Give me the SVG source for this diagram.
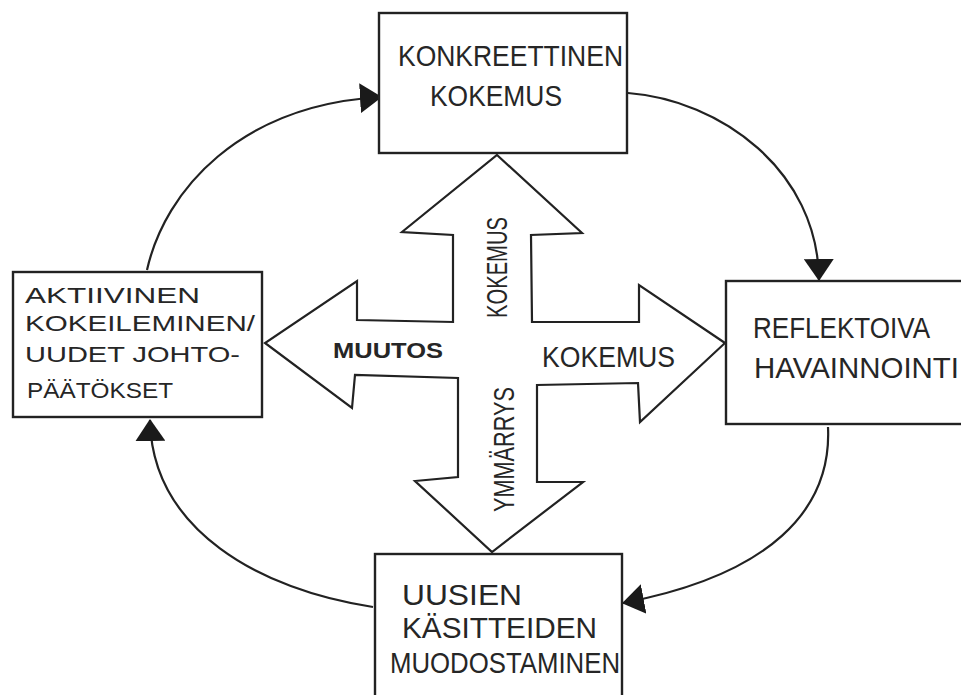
<svg xmlns="http://www.w3.org/2000/svg" width="961" height="695" viewBox="0 0 961 695">
<style>
.box{fill:#fff;stroke:#222;stroke-width:2.4}
.cross{fill:#fff;stroke:#222;stroke-width:2.2;stroke-linejoin:miter}
.conn{fill:none;stroke:#222;stroke-width:2.2}
.t{font-family:"Liberation Sans",Arial,sans-serif;fill:#262626;font-size:29px}
.s{font-size:22px}
.b{font-weight:bold}
</style>
<defs>
<marker id="ah" viewBox="0 0 22 30" refX="21" refY="15" markerWidth="22" markerHeight="30" markerUnits="userSpaceOnUse" orient="auto">
<path d="M0,0 L22,15 L0,30 Z" fill="#1a1a1a"/>
</marker>
</defs>
<rect width="961" height="695" fill="#fff"/>
<g id="connectors">
<path class="conn" d="M628,93 C720,100 818,170 819,280" marker-end="url(#ah)"/>
<path class="conn" d="M828,427 C832,510 770,575 623,603" marker-end="url(#ah)"/>
<path class="conn" d="M373,607 C260,590 152,530 150,420" marker-end="url(#ah)"/>
<path class="conn" d="M147,270 C165,190 240,105 381,97" marker-end="url(#ah)"/>
</g>
<g id="cross">
<polygon class="cross" points="497,155 582,233 531,235 532,322 639,322 639,285 725,343 640,422 638,383 537,385 537,482 583,482 492,552 415,481 458,477 458,378 355,375 352,408 265,343 357,281 357,320 453,322 453,235 402,232"/>
<text class="t" transform="translate(507,318) rotate(-90)" textLength="101" lengthAdjust="spacingAndGlyphs">KOKEMUS</text>
<text class="t s b" x="333" y="358" textLength="110" lengthAdjust="spacingAndGlyphs">MUUTOS</text>
<text class="t" x="542" y="367" textLength="133" lengthAdjust="spacingAndGlyphs">KOKEMUS</text>
<text class="t" transform="translate(514,512) rotate(-90)" textLength="125" lengthAdjust="spacingAndGlyphs">YMMÄRRYS</text>
</g>
<g id="konkreettinen">
<rect class="box" x="379" y="13" width="248" height="140"/>
<text class="t" x="398" y="66" textLength="225" lengthAdjust="spacingAndGlyphs">KONKREETTINEN</text>
<text class="t" x="430" y="106" textLength="132" lengthAdjust="spacingAndGlyphs">KOKEMUS</text>
</g>
<g id="reflektoiva">
<rect class="box" x="726" y="281" width="250" height="143"/>
<text class="t" x="753" y="338" textLength="177" lengthAdjust="spacingAndGlyphs">REFLEKTOIVA</text>
<text class="t" x="754" y="378" textLength="205" lengthAdjust="spacingAndGlyphs">HAVAINNOINTI</text>
</g>
<g id="uusien">
<rect class="box" x="375" y="554" width="247" height="160"/>
<text class="t" x="402" y="605" textLength="120" lengthAdjust="spacingAndGlyphs">UUSIEN</text>
<text class="t" x="402" y="638" textLength="195" lengthAdjust="spacingAndGlyphs">KÄSITTEIDEN</text>
<text class="t" x="390" y="673" textLength="230" lengthAdjust="spacingAndGlyphs">MUODOSTAMINEN</text>
</g>
<g id="aktiivinen">
<rect class="box" x="13" y="272" width="249" height="145"/>
<text class="t s" x="25" y="303" textLength="175" lengthAdjust="spacingAndGlyphs">AKTIIVINEN</text>
<text class="t s" x="25" y="331" textLength="230" lengthAdjust="spacingAndGlyphs">KOKEILEMINEN/</text>
<text class="t s" x="25" y="362" textLength="215" lengthAdjust="spacingAndGlyphs">UUDET JOHTO-</text>
<text class="t s" x="27" y="398" textLength="146" lengthAdjust="spacingAndGlyphs">PÄÄTÖKSET</text>
</g>
</svg>
